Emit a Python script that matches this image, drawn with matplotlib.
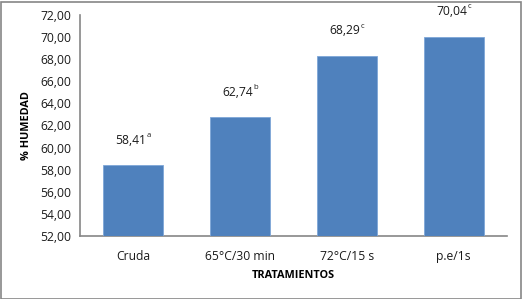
import matplotlib
matplotlib.use("Agg")
import matplotlib.pyplot as plt
from matplotlib.patches import Rectangle

plt.rcParams.update({
    "font.family": ["Open Sans", "DejaVu Sans"],
    "font.size": 8.7,
})

BLUE = "#4f81bd"
AXIS = "#868686"

categories = ["Cruda", "65°C/30 min", "72°C/15 s", "p.e/1s"]
humedad = [58.41, 62.74, 68.29, 70.04]
letters = ["a", "b", "c", "c"]

fig = plt.figure(figsize=(5.22, 2.99), dpi=100)
ax = fig.add_axes([80 / 522, 1 - 236 / 299, 427 / 522, 221 / 299])

x = range(len(categories))
bars = ax.bar(x, humedad, width=0.56, color=BLUE, edgecolor="#7ea6d8",
              linewidth=0.6, zorder=3)

# number and superscript letter drawn as two texts
for bar, val, let in zip(bars, humedad, letters):
    cx = bar.get_x() + bar.get_width() / 2
    num = f"{val:.2f}".replace(".", ",")
    ax.annotate(num, (cx, val), textcoords="offset points", xytext=(9.5, 18),
                ha="right", va="center", fontsize=8.7, color="#1a1a1a")
    ax.annotate(let, (cx, val), textcoords="offset points", xytext=(9.8, 21.5),
                ha="left", va="center", fontsize=5.5, color="#1a1a1a")

ax.set_xlim(-0.5, len(categories) - 0.5)
ax.set_ylim(52, 72)
ax.set_yticks(range(52, 73, 2))
ax.set_yticklabels([f"{v:.2f}".replace(".", ",") for v in range(52, 73, 2)])
ax.set_xticks(list(x))
ax.set_xticklabels(categories)
ax.tick_params(axis="both", length=0, pad=6, colors="#1a1a1a")
ax.tick_params(axis="x", pad=10)

for s in ["top", "right"]:
    ax.spines[s].set_visible(False)
for s in ["left", "bottom"]:
    ax.spines[s].set_color(AXIS)
    ax.spines[s].set_linewidth(1.2)

ax.set_ylabel("% HUMEDAD", fontweight="bold", fontsize=7.8, labelpad=6)
ax.set_xlabel("TRATAMIENTOS", fontweight="bold", fontsize=7.8, labelpad=5)

fig.patches.append(Rectangle((0.5 / 522, 0.5 / 299), 520 / 522, 297 / 299,
                             transform=fig.transFigure, fill=False,
                             edgecolor="#868686", linewidth=1.2))

fig.savefig("out.png", dpi=100)
